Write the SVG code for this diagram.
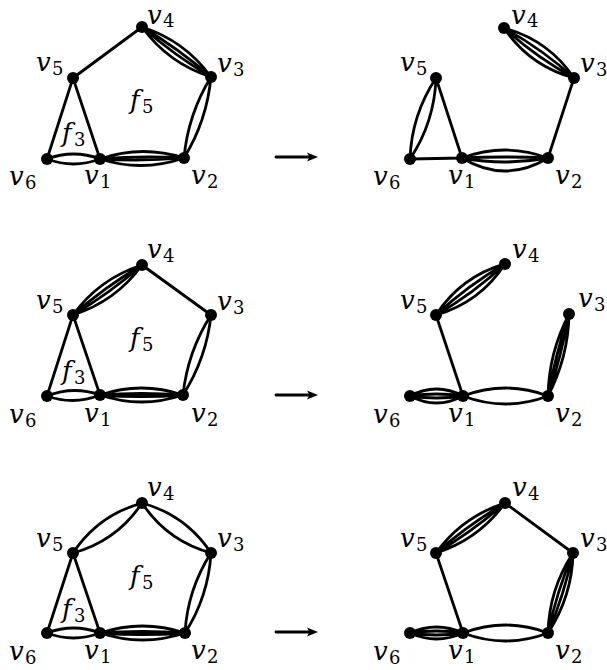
<svg xmlns="http://www.w3.org/2000/svg" width="607" height="670" viewBox="0 0 607 670">
<style>
.e{fill:none;stroke:#000;stroke-width:2.8;stroke-linecap:round}
.n{fill:#000}
.t{font-family:"DejaVu Serif","Liberation Serif",serif;font-style:italic;font-size:26px;fill:#000}
.s{font-style:normal;font-size:18px}
</style>
<defs>
<marker id="ah" markerUnits="userSpaceOnUse" markerWidth="12" markerHeight="10" refX="2" refY="5" orient="auto">
<path d="M0,0.5 L11,5 L0,9.5 L2.5,5 Z" fill="#000"/>
</marker>
</defs>
<g id="connectors">
<!-- G1 -->
<path class="e" d="M73,78L142,27M47,159L73,78M73,78L100,159"/>
<g transform="translate(142,27) rotate(35.9)"><path class="e" d="M0,0Q42.6,-14 85.2,0M0,0Q42.6,-4 85.2,0M0,0Q42.6,4 85.2,0M0,0Q42.6,14 85.2,0"/></g>
<g transform="translate(184,158) rotate(-71.6)"><path class="e" d="M0,0Q42.7,-10 85.4,0M0,0Q42.7,10 85.4,0"/></g>
<g transform="translate(100,159) rotate(-0.7)"><path class="e" d="M0,0Q42,-14 84,0M0,0Q42,-3 84,0M0,0Q42,3 84,0M0,0Q42,14 84,0"/></g>
<g transform="translate(47,159)"><path class="e" d="M0,0Q26.5,-10 53,0M0,0Q26.5,10 53,0"/></g>
<!-- G2 -->
<path class="e" d="M574,78L548,158M410,159L462,158M436,78L462,158"/>
<g transform="translate(504,28) rotate(35.5)"><path class="e" d="M0,0Q43,-16 86,0M0,0Q43,-5 86,0M0,0Q43,5 86,0M0,0Q43,16 86,0"/></g>
<g transform="translate(462,158)"><path class="e" d="M0,0Q43,-16 86,0M0,0Q43,-2 86,0M0,0Q43,8 86,0M0,0Q43,26 86,0"/></g>
<g transform="translate(410,159) rotate(-72.2)"><path class="e" d="M0,0Q42.5,-12 85.1,0M0,0Q42.5,12 85.1,0"/></g>
<!-- G3 -->
<path class="e" d="M142,265L211,315M47,396L73,315M73,315L100,395"/>
<g transform="translate(73,315) rotate(-35.9)"><path class="e" d="M0,0Q42.6,-14 85.2,0M0,0Q42.6,-4 85.2,0M0,0Q42.6,4 85.2,0M0,0Q42.6,14 85.2,0"/></g>
<g transform="translate(183,395) rotate(-70.7)"><path class="e" d="M0,0Q42.4,-10 84.8,0M0,0Q42.4,10 84.8,0"/></g>
<g transform="translate(100,395)"><path class="e" d="M0,0Q41.5,-14 83,0M0,0Q41.5,-3 83,0M0,0Q41.5,3 83,0M0,0Q41.5,14 83,0"/></g>
<g transform="translate(47,396) rotate(-1.1)"><path class="e" d="M0,0Q26.5,-10 53,0M0,0Q26.5,10 53,0"/></g>
<!-- G4 -->
<path class="e" d="M436,315L463,396"/>
<g transform="translate(436,315) rotate(-36.5)"><path class="e" d="M0,0Q42.9,-16 85.8,0M0,0Q42.9,-5 85.8,0M0,0Q42.9,5 85.8,0M0,0Q42.9,16 85.8,0"/></g>
<g transform="translate(548,396) rotate(-75.6)"><path class="e" d="M0,0Q42.3,-10 84.6,0M0,0Q42.3,-3 84.6,0M0,0Q42.3,3 84.6,0M0,0Q42.3,10 84.6,0"/></g>
<g transform="translate(410,396)"><path class="e" d="M0,0Q26.5,-14 53,0M0,0Q26.5,-4 53,0M0,0Q26.5,4 53,0M0,0Q26.5,14 53,0"/></g>
<g transform="translate(463,396)"><path class="e" d="M0,0Q42.5,-16 85,0M0,0Q42.5,16 85,0"/></g>
<!-- G5 -->
<path class="e" d="M47,633L73,553M73,553L100,633"/>
<g transform="translate(73,553) rotate(-35.9)"><path class="e" d="M0,0Q42.6,-16 85.2,0M0,0Q42.6,16 85.2,0"/></g>
<g transform="translate(142,503) rotate(35.9)"><path class="e" d="M0,0Q42.6,-16 85.2,0M0,0Q42.6,16 85.2,0"/></g>
<g transform="translate(185,633) rotate(-72)"><path class="e" d="M0,0Q42,-11 84.1,0M0,0Q42,11 84.1,0"/></g>
<g transform="translate(100,633)"><path class="e" d="M0,0Q42.5,-14 85,0M0,0Q42.5,-3 85,0M0,0Q42.5,3 85,0M0,0Q42.5,14 85,0"/></g>
<g transform="translate(47,633)"><path class="e" d="M0,0Q26.5,-10 53,0M0,0Q26.5,10 53,0"/></g>
<!-- G6 -->
<path class="e" d="M505,503L573,553M436,553L463,633"/>
<g transform="translate(436,553) rotate(-35.9)"><path class="e" d="M0,0Q42.6,-14 85.2,0M0,0Q42.6,-4 85.2,0M0,0Q42.6,4 85.2,0M0,0Q42.6,14 85.2,0"/></g>
<g transform="translate(548,633) rotate(-72.6)"><path class="e" d="M0,0Q41.9,-12 83.8,0M0,0Q41.9,-4 83.8,0M0,0Q41.9,4 83.8,0M0,0Q41.9,12 83.8,0"/></g>
<g transform="translate(410,633)"><path class="e" d="M0,0Q26.5,-12 53,0M0,0Q26.5,-4 53,0M0,0Q26.5,4 53,0M0,0Q26.5,12 53,0"/></g>
<g transform="translate(463,633)"><path class="e" d="M0,0Q42.5,-16 85,0M0,0Q42.5,16 85,0"/></g>
<!-- arrows -->
<path class="e" d="M276,157H309" marker-end="url(#ah)"/>
<path class="e" d="M276,395H309" marker-end="url(#ah)"/>
<path class="e" d="M276,632H309" marker-end="url(#ah)"/>
</g>
<!-- G1 nodes -->
<g id="g1-v1"><circle class="n" cx="100" cy="159" r="6"/><text class="t"><tspan x="84" y="184">v</tspan><tspan class="s" x="100" y="188">1</tspan></text></g>
<g id="g1-v2"><circle class="n" cx="184" cy="158" r="6"/><text class="t"><tspan x="191" y="184">v</tspan><tspan class="s" x="207" y="188">2</tspan></text></g>
<g id="g1-v3"><circle class="n" cx="211" cy="77" r="6"/><text class="t"><tspan x="217" y="72">v</tspan><tspan class="s" x="233" y="76">3</tspan></text></g>
<g id="g1-v4"><circle class="n" cx="142" cy="27" r="6"/><text class="t"><tspan x="147" y="24">v</tspan><tspan class="s" x="163" y="27">4</tspan></text></g>
<g id="g1-v5"><circle class="n" cx="73" cy="78" r="6"/><text class="t"><tspan x="36" y="71">v</tspan><tspan class="s" x="52" y="75">5</tspan></text></g>
<g id="g1-v6"><circle class="n" cx="47" cy="159" r="6"/><text class="t"><tspan x="9" y="185">v</tspan><tspan class="s" x="25" y="189">6</tspan></text></g>
<g id="g1-f5"><text class="t"><tspan x="130" y="109">f</tspan><tspan class="s" x="142" y="113">5</tspan></text></g>
<g id="g1-f3"><text class="t"><tspan x="62" y="142">f</tspan><tspan class="s" x="74" y="146">3</tspan></text></g>
<!-- G2 nodes -->
<g id="g2-v1"><circle class="n" cx="462" cy="158" r="6"/><text class="t"><tspan x="448" y="184">v</tspan><tspan class="s" x="464" y="188">1</tspan></text></g>
<g id="g2-v2"><circle class="n" cx="548" cy="158" r="6"/><text class="t"><tspan x="555" y="184">v</tspan><tspan class="s" x="571" y="188">2</tspan></text></g>
<g id="g2-v3"><circle class="n" cx="574" cy="78" r="6"/><text class="t"><tspan x="580" y="72">v</tspan><tspan class="s" x="596" y="76">3</tspan></text></g>
<g id="g2-v4"><circle class="n" cx="504" cy="28" r="6"/><text class="t"><tspan x="511" y="24">v</tspan><tspan class="s" x="527" y="27">4</tspan></text></g>
<g id="g2-v5"><circle class="n" cx="436" cy="78" r="6"/><text class="t"><tspan x="400" y="71">v</tspan><tspan class="s" x="416" y="75">5</tspan></text></g>
<g id="g2-v6"><circle class="n" cx="410" cy="159" r="6"/><text class="t"><tspan x="373" y="185">v</tspan><tspan class="s" x="389" y="189">6</tspan></text></g>
<!-- G3 nodes -->
<g id="g3-v1"><circle class="n" cx="100" cy="395" r="6"/><text class="t"><tspan x="84" y="422">v</tspan><tspan class="s" x="100" y="426">1</tspan></text></g>
<g id="g3-v2"><circle class="n" cx="183" cy="395" r="6"/><text class="t"><tspan x="191" y="422">v</tspan><tspan class="s" x="207" y="426">2</tspan></text></g>
<g id="g3-v3"><circle class="n" cx="211" cy="315" r="6"/><text class="t"><tspan x="217" y="310">v</tspan><tspan class="s" x="233" y="314">3</tspan></text></g>
<g id="g3-v4"><circle class="n" cx="142" cy="265" r="6"/><text class="t"><tspan x="147" y="258">v</tspan><tspan class="s" x="163" y="262">4</tspan></text></g>
<g id="g3-v5"><circle class="n" cx="73" cy="315" r="6"/><text class="t"><tspan x="36" y="309">v</tspan><tspan class="s" x="52" y="313">5</tspan></text></g>
<g id="g3-v6"><circle class="n" cx="47" cy="396" r="6"/><text class="t"><tspan x="9" y="423">v</tspan><tspan class="s" x="25" y="427">6</tspan></text></g>
<g id="g3-f5"><text class="t"><tspan x="130" y="347">f</tspan><tspan class="s" x="142" y="351">5</tspan></text></g>
<g id="g3-f3"><text class="t"><tspan x="62" y="380">f</tspan><tspan class="s" x="74" y="384">3</tspan></text></g>
<!-- G4 nodes -->
<g id="g4-v1"><circle class="n" cx="463" cy="396" r="6"/><text class="t"><tspan x="448" y="422">v</tspan><tspan class="s" x="464" y="426">1</tspan></text></g>
<g id="g4-v2"><circle class="n" cx="548" cy="396" r="6"/><text class="t"><tspan x="555" y="422">v</tspan><tspan class="s" x="571" y="426">2</tspan></text></g>
<g id="g4-v3"><circle class="n" cx="569" cy="314" r="6"/><text class="t"><tspan x="578" y="307">v</tspan><tspan class="s" x="594" y="311">3</tspan></text></g>
<g id="g4-v4"><circle class="n" cx="505" cy="264" r="6"/><text class="t"><tspan x="512" y="258">v</tspan><tspan class="s" x="528" y="262">4</tspan></text></g>
<g id="g4-v5"><circle class="n" cx="436" cy="315" r="6"/><text class="t"><tspan x="400" y="309">v</tspan><tspan class="s" x="416" y="313">5</tspan></text></g>
<g id="g4-v6"><circle class="n" cx="410" cy="396" r="6"/><text class="t"><tspan x="373" y="423">v</tspan><tspan class="s" x="389" y="427">6</tspan></text></g>
<!-- G5 nodes -->
<g id="g5-v1"><circle class="n" cx="100" cy="633" r="6"/><text class="t"><tspan x="84" y="659">v</tspan><tspan class="s" x="100" y="663">1</tspan></text></g>
<g id="g5-v2"><circle class="n" cx="185" cy="633" r="6"/><text class="t"><tspan x="191" y="659">v</tspan><tspan class="s" x="207" y="663">2</tspan></text></g>
<g id="g5-v3"><circle class="n" cx="211" cy="553" r="6"/><text class="t"><tspan x="217" y="547">v</tspan><tspan class="s" x="233" y="551">3</tspan></text></g>
<g id="g5-v4"><circle class="n" cx="142" cy="503" r="6"/><text class="t"><tspan x="147" y="496">v</tspan><tspan class="s" x="163" y="500">4</tspan></text></g>
<g id="g5-v5"><circle class="n" cx="73" cy="553" r="6"/><text class="t"><tspan x="36" y="547">v</tspan><tspan class="s" x="52" y="551">5</tspan></text></g>
<g id="g5-v6"><circle class="n" cx="47" cy="633" r="6"/><text class="t"><tspan x="9" y="660">v</tspan><tspan class="s" x="25" y="664">6</tspan></text></g>
<g id="g5-f5"><text class="t"><tspan x="130" y="585">f</tspan><tspan class="s" x="142" y="589">5</tspan></text></g>
<g id="g5-f3"><text class="t"><tspan x="62" y="618">f</tspan><tspan class="s" x="74" y="622">3</tspan></text></g>
<!-- G6 nodes -->
<g id="g6-v1"><circle class="n" cx="463" cy="633" r="6"/><text class="t"><tspan x="448" y="659">v</tspan><tspan class="s" x="464" y="663">1</tspan></text></g>
<g id="g6-v2"><circle class="n" cx="548" cy="633" r="6"/><text class="t"><tspan x="555" y="659">v</tspan><tspan class="s" x="571" y="663">2</tspan></text></g>
<g id="g6-v3"><circle class="n" cx="573" cy="553" r="6"/><text class="t"><tspan x="580" y="547">v</tspan><tspan class="s" x="596" y="551">3</tspan></text></g>
<g id="g6-v4"><circle class="n" cx="505" cy="503" r="6"/><text class="t"><tspan x="512" y="496">v</tspan><tspan class="s" x="528" y="500">4</tspan></text></g>
<g id="g6-v5"><circle class="n" cx="436" cy="553" r="6"/><text class="t"><tspan x="400" y="547">v</tspan><tspan class="s" x="416" y="551">5</tspan></text></g>
<g id="g6-v6"><circle class="n" cx="410" cy="633" r="6"/><text class="t"><tspan x="373" y="660">v</tspan><tspan class="s" x="389" y="664">6</tspan></text></g>
</svg>
